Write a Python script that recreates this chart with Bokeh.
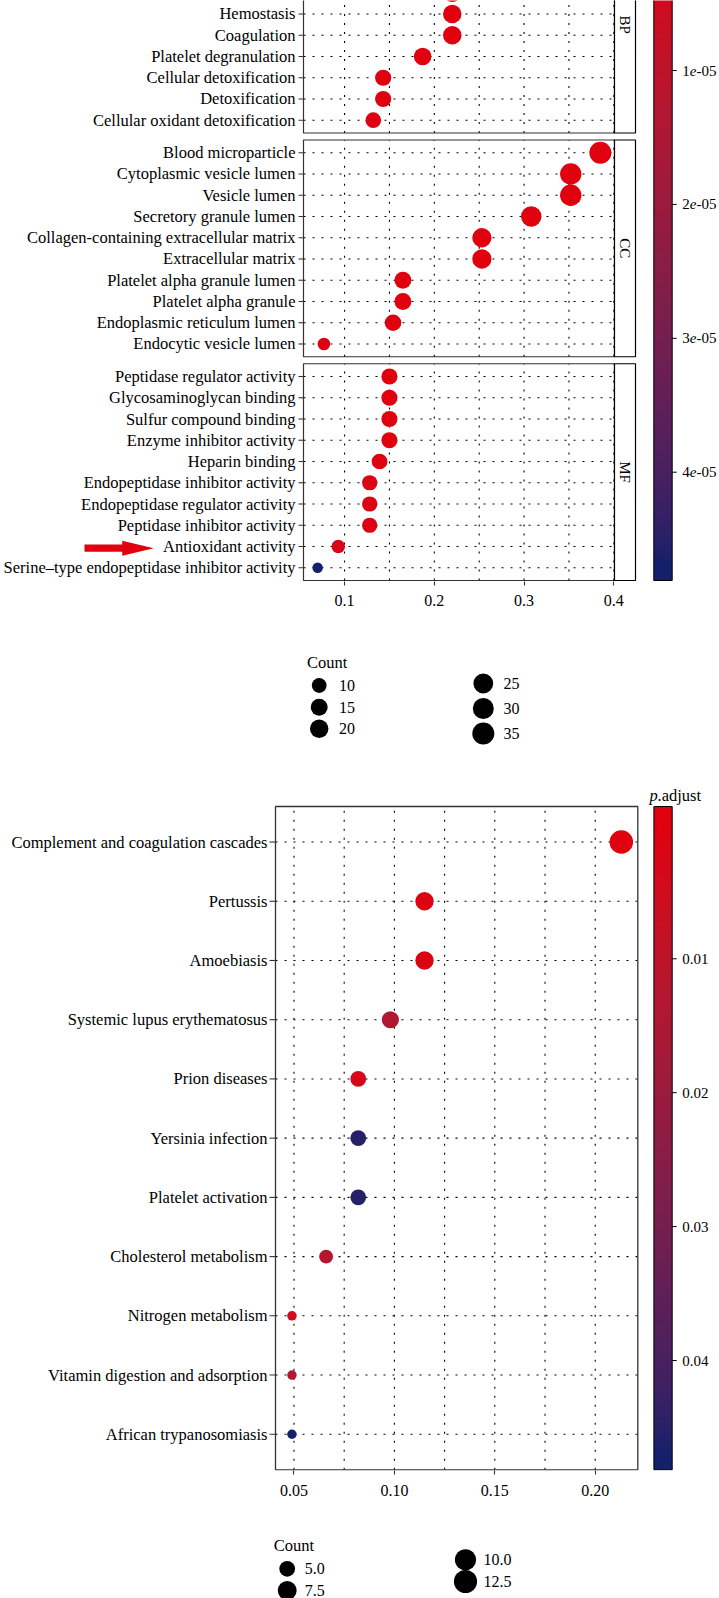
import numpy as np
from bokeh.plotting import figure
from bokeh.models import ColumnDataSource, Range1d, FixedTicker, PrintfTickFormatter, LinearColorMapper, Label
from bokeh.layouts import column
from bokeh.core.properties import value
from bokeh.embed import file_html
from bokeh.resources import INLINE

FONT = "Liberation Serif"

# ------------------------------------------------------------------ data: GO
bp_terms = ["Blood coagulation", "Hemostasis", "Coagulation", "Platelet degranulation",
            "Cellular detoxification", "Detoxification", "Cellular oxidant detoxification"]
bp_ratio = [0.220, 0.220, 0.220, 0.187, 0.143, 0.143, 0.132]
bp_count = [20, 20, 20, 17, 13, 13, 12]
bp_padj = [3.1e-10, 3.1e-10, 3.1e-10, 8.9e-09, 4.2e-07, 4.2e-07, 9.6e-07]

cc_terms = ["Blood microparticle", "Cytoplasmic vesicle lumen", "Vesicle lumen",
            "Secretory granule lumen", "Collagen-containing extracellular matrix",
            "Extracellular matrix", "Platelet alpha granule lumen", "Platelet alpha granule",
            "Endoplasmic reticulum lumen", "Endocytic vesicle lumen"]
cc_ratio = [0.385, 0.352, 0.352, 0.308, 0.253, 0.253, 0.165, 0.165, 0.154, 0.077]
cc_count = [35, 32, 32, 28, 23, 23, 15, 15, 14, 7]
cc_padj = [2.0e-21, 6.5e-17, 6.5e-17, 1.4e-14, 3.3e-10, 3.3e-10, 5.2e-09, 6.8e-09, 2.4e-07, 1.6e-06]

mf_terms = ["Peptidase regulator activity", "Glycosaminoglycan binding",
            "Sulfur compound binding", "Enzyme inhibitor activity", "Heparin binding",
            "Endopeptidase inhibitor activity", "Endopeptidase regulator activity",
            "Peptidase inhibitor activity", "Antioxidant activity",
            "Serine\u2013type endopeptidase inhibitor activity"]
mf_ratio = [0.150, 0.150, 0.150, 0.150, 0.139, 0.128, 0.128, 0.128, 0.093, 0.070]
mf_count = [13, 13, 13, 13, 12, 11, 11, 11, 8, 6]
mf_padj = [1.1e-07, 1.1e-07, 1.1e-07, 1.1e-07, 3.9e-07, 1.2e-06, 1.2e-06, 1.2e-06, 2.3e-06, 4.68e-05]

facet_labels = ["BP", "CC", "MF"]
go_xticks = [0.1, 0.2, 0.3, 0.4]
go_cbar_ticks = [1e-05, 2e-05, 3e-05, 4e-05]
go_size_breaks = [10, 15, 20, 25, 30, 35]
go_size_labels = ["10", "15", "20", "25", "30", "35"]

# ---------------------------------------------------------------- data: KEGG
kegg_terms = ["Complement and coagulation cascades", "Pertussis", "Amoebiasis",
              "Systemic lupus erythematosus", "Prion diseases", "Yersinia infection",
              "Platelet activation", "Cholesterol metabolism", "Nitrogen metabolism",
              "Vitamin digestion and adsorption", "African trypanosomiasis"]
kegg_ratio = [0.213, 0.115, 0.115, 0.098, 0.082, 0.082, 0.082, 0.066, 0.049, 0.049, 0.049]
kegg_count = [13, 7, 7, 6, 5, 5, 5, 4, 3, 3, 3]
kegg_padj = [1.2e-07, 0.0012, 0.0013, 0.0135, 0.0031, 0.0452, 0.0455, 0.0122, 0.0036, 0.0140, 0.0469]

kegg_xticks = [0.05, 0.10, 0.15, 0.20]
kegg_cbar_ticks = [0.01, 0.02, 0.03, 0.04]
kegg_size_breaks = [5.0, 7.5, 10.0, 12.5]
kegg_size_labels = ["5.0", "7.5", "10.0", "12.5"]

# ------------------------------------------------------------------ styling
PAGE_W = 719
RED_HEX, NAVY_HEX = "#E0000E", "#14206B"
GRID_DASH = "2 7"
BORDER = "#333333"
LABEL_FS = "16.5px"

_M = np.array([[0.4124564, 0.3575761, 0.1804375],
               [0.2126729, 0.7151522, 0.0721750],
               [0.0193339, 0.1191920, 0.9503041]])
_WP = np.array([0.95047, 1.0, 1.08883])


def _to_lab(h):
    h = h.lstrip("#")
    rgb = np.array([int(h[i:i + 2], 16) for i in (0, 2, 4)]) / 255.0
    lin = np.where(rgb <= 0.04045, rgb / 12.92, ((rgb + 0.055) / 1.055) ** 2.4)
    xyz = (_M @ lin) / _WP
    f = np.where(xyz > 216 / 24389, np.cbrt(xyz), (24389 / 27 * xyz + 16) / 116)
    return np.array([116 * f[1] - 16, 500 * (f[0] - f[1]), 200 * (f[1] - f[2])])


def _from_lab(lab):
    L, a, b = lab
    fy = (L + 16) / 116
    f = np.array([fy + a / 500, fy, fy - b / 200])
    xyz = np.where(f ** 3 > 216 / 24389, f ** 3, (116 * f - 16) / (24389 / 27)) * _WP
    lin = np.linalg.solve(_M, xyz)
    rgb = np.where(lin <= 0.0031308, 12.92 * lin,
                   1.055 * np.power(np.clip(lin, 0, None), 1 / 2.4) - 0.055)
    rgb = np.clip(np.round(rgb * 255), 0, 255).astype(int)
    return "#%02x%02x%02x" % tuple(rgb)


LAB_LO, LAB_HI = _to_lab(RED_HEX), _to_lab(NAVY_HEX)


def gradient(t):
    return _from_lab(LAB_LO + (LAB_HI - LAB_LO) * t)


def make_mapper(lo, hi, n=256):
    return LinearColorMapper(palette=[gradient(t) for t in np.linspace(0, 1, n)],
                             low=lo, high=hi, low_color=gradient(0.0), high_color=gradient(1.0))


def dot_size(c, cmin, cmax, dmin, dmax):
    c = np.asarray(c, dtype=float)
    return dmin + (dmax - dmin) * np.sqrt(np.clip((c - cmin) / (cmax - cmin), 0, 1))


class Frame:
    """maps page pixels to data coordinates of one figure"""

    def __init__(self, xv, xp, kx, yv, yp, ky):
        self.xv, self.xp, self.kx, self.yv, self.yp, self.ky = xv, xp, kx, yv, yp, ky

    def X(self, px):
        if np.ndim(px):
            return [self.X(v) for v in px]
        return float(self.xv + (px - self.xp) / self.kx)

    def Y(self, py):
        if np.ndim(py):
            return [self.Y(v) for v in py]
        return float(self.yv - (py - self.yp) / self.ky)

    def page_y(self, y):
        return self.yp - (y - self.yv) * self.ky


def base_fig(height, frame_bottom_local, fr, page_top, with_axis=True):
    p = figure(width=PAGE_W, height=height, title=None,
               x_range=Range1d(fr.X(0), fr.X(PAGE_W)),
               y_range=Range1d(fr.Y(page_top + frame_bottom_local), fr.Y(page_top)),
               min_border_left=0, min_border_right=0, min_border_top=0,
               min_border_bottom=height - frame_bottom_local,
               x_axis_type="linear" if with_axis else None, y_axis_type=None,
               toolbar_location=None, output_backend="svg", outline_line_color=None,
               background_fill_color="white", border_fill_color="white")
    p.xgrid.visible = False
    p.ygrid.visible = False
    return p


def style_xaxis(p, ticks, fmt, standoff):
    ax = p.xaxis[0]
    ax.ticker = FixedTicker(ticks=ticks)
    ax.formatter = PrintfTickFormatter(format=fmt)
    ax.axis_line_color = None
    ax.major_tick_line_color = BORDER
    ax.major_tick_line_width = 1.1
    ax.major_tick_in = 0
    ax.major_tick_out = 4
    ax.minor_tick_line_color = None
    ax.major_label_standoff = standoff
    ax.major_label_text_font = FONT
    ax.major_label_text_font_size = "16px"
    ax.major_label_text_color = "black"


def txt(p, xs, ys, texts, size, align="left", style="normal", angle=0.0, x_offset=0):
    p.text(x=xs, y=ys, text=texts, text_font=value(FONT), text_font_size=size,
           text_align=align, text_baseline="middle", text_font_style=style,
           angle=angle, text_color="black", x_offset=x_offset)


def grid_and_labels(p, fr, page_top, terms, ys, x_lo, x_hi, panels, grid_x, lab_right,
                    tick_x0, tick_x1):
    # dotted grid inside the panels
    p.segment(x0=x_lo, x1=x_hi, y0=ys, y1=ys, line_color="black", line_width=1.1,
              line_dash=GRID_DASH)
    gx, gb, gt = [], [], []
    for b, t in panels:
        for g in grid_x:
            gx.append(g); gb.append(b); gt.append(t)
    p.segment(x0=gx, x1=gx, y0=gb, y1=gt, line_color="black", line_width=1.1,
              line_dash=GRID_DASH)
    # y ticks and labels (labels only for rows that fall inside the crop)
    p.segment(x0=fr.X(tick_x0), x1=fr.X(tick_x1), y0=ys, y1=ys, line_color=BORDER,
              line_width=1.1)
    vis = [(t, y) for t, y in zip(terms, ys) if fr.page_y(y) - 9 >= page_top]
    txt(p, [fr.X(lab_right)] * len(vis), [y for _, y in vis], [t for t, _ in vis],
        LABEL_FS, align="right")


def draw_colorbar(p, fr, mapper, ticks, tick_page0, step_px, top_page, bot_page,
                  x0p, x1p, italic_e):
    t0, dt = ticks[0], ticks[1] - ticks[0]
    n = int(round(bot_page - top_page))
    edges = np.linspace(bot_page, top_page, n + 1)          # bottom -> top
    mids = (edges[:-1] + edges[1:]) / 2
    vals = t0 + (mids - tick_page0) / step_px * dt
    img = vals.reshape(n, 1)
    y0, y1 = fr.Y(bot_page), fr.Y(top_page)
    p.image(image=[img], x=fr.X(x0p), y=y0, dw=fr.X(x1p) - fr.X(x0p), dh=y1 - y0,
            color_mapper=mapper)
    p.quad(left=fr.X(x0p), right=fr.X(x1p), top=y1, bottom=y0,
           fill_color=None, line_color="black", line_width=1)
    tp = [tick_page0 + (t - t0) / dt * step_px for t in ticks]
    ty = fr.Y(tp)
    p.segment(x0=fr.X(x1p), x1=fr.X(x1p + 4.5), y0=ty, y1=ty, line_color="black",
              line_width=1)
    lx = fr.X(x1p + 10)
    if italic_e:
        parts = [("%.0e" % t).split("e") for t in ticks]
        txt(p, [lx] * len(ticks), ty, [a for a, _ in parts], "15px")
        txt(p, [lx] * len(ticks), ty, ["e"] * len(ticks), "15px", style="italic",
            x_offset=7.5)
        txt(p, [lx] * len(ticks), ty, [b for _, b in parts], "15px", x_offset=14.2)
    else:
        txt(p, [lx] * len(ticks), ty, ["%.2f" % t for t in ticks], "15px")


# =============================================================== GO figure
GO_H, GO_FRAME_B = 642, 581
GO_PANEL_LEFT, GO_PANEL_W, GO_STRIP_W = 303, 311, 21
GO_PITCH = 21.25
GO_MF_BOTTOM_PAGE = 580
ROW, GAP, PAD = 100, 33, 60
BP_ROWS = 10


def rows(n_known, base):
    return [base + (n_known - 1 - j) * ROW for j in range(n_known)]


mf_y = rows(len(mf_terms), 0)
mf_bot, mf_top = -PAD, (len(mf_terms) - 1) * ROW + PAD
cc_base = mf_top + GAP + PAD
cc_y = rows(len(cc_terms), cc_base)
cc_bot, cc_top = cc_base - PAD, cc_base + (len(cc_terms) - 1) * ROW + PAD
bp_base = cc_top + GAP + PAD
bp_y = rows(len(bp_terms), bp_base)
bp_bot, bp_top = bp_base - PAD, bp_base + (BP_ROWS - 1) * ROW + PAD

go_ratio_all = bp_ratio + cc_ratio + mf_ratio
go_count_all = bp_count + cc_count + mf_count
go_padj_all = bp_padj + cc_padj + mf_padj
go_terms_all = bp_terms + cc_terms + mf_terms
go_y_all = bp_y + cc_y + mf_y
rmin, rmax = min(go_ratio_all), max(go_ratio_all)
x_lo, x_hi = rmin - 0.05 * (rmax - rmin), rmax + 0.05 * (rmax - rmin)

gf = Frame(x_lo, GO_PANEL_LEFT, GO_PANEL_W / (x_hi - x_lo),
           mf_bot, GO_MF_BOTTOM_PAGE, GO_PITCH / ROW)
x_strip_r = gf.X(GO_PANEL_LEFT + GO_PANEL_W + GO_STRIP_W)

go_mapper = make_mapper(min(go_padj_all), max(go_padj_all))
GO_DMIN, GO_DMAX = 10.5, 22.0
go_cmin, go_cmax = min(go_count_all), max(go_count_all)

go = base_fig(GO_H, GO_FRAME_B, gf, 0)
style_xaxis(go, go_xticks, "%.1f", 9)

go_mid = [(a + b) / 2 for a, b in zip(go_xticks[:-1], go_xticks[1:])]
panels_go = [(mf_bot, mf_top), (cc_bot, cc_top), (bp_bot, bp_top)]
grid_and_labels(go, gf, 0, go_terms_all, go_y_all, x_lo, x_hi, panels_go,
                sorted(go_xticks + go_mid), 295, 298, GO_PANEL_LEFT)

go_src = ColumnDataSource(dict(
    x=go_ratio_all, y=go_y_all, padj=go_padj_all,
    size=dot_size(go_count_all, go_cmin, go_cmax, GO_DMIN, GO_DMAX)))
go.scatter("x", "y", size="size", source=go_src, line_color=None,
           fill_color={"field": "padj", "transform": go_mapper})

pb = [b for b, _ in panels_go]
pt = [t for _, t in panels_go]
go.quad(left=x_lo, right=x_hi, bottom=pb, top=pt, fill_color=None, line_color=BORDER,
        line_width=1.2)
go.quad(left=x_hi, right=x_strip_r, bottom=pb, top=pt, fill_color="white",
        line_color="black", line_width=1.2)
txt(go, [(x_hi + x_strip_r) / 2] * 3, [(b + t) / 2 for b, t in panels_go][::-1],
    facet_labels, "15px", align="center", angle=-np.pi / 2)

draw_colorbar(go, gf, go_mapper, go_cbar_ticks, 70.0, 133.9, -5, 580, 653.3, 671.7, True)

# red arrow pointing at "Antioxidant activity"
arr_page = gf.page_y(mf_y[mf_terms.index("Antioxidant activity")])
A_TAIL, A_BASE, A_TIP, A_SHAFT, A_HEAD = 84, 121.7, 153.3, 3.65, 7.5
A_C = arr_page + 1.7
go.patch(x=gf.X([A_TAIL, A_BASE, A_BASE, A_TIP, A_BASE, A_BASE, A_TAIL]),
         y=gf.Y([A_C - A_SHAFT, A_C - A_SHAFT, A_C - A_HEAD, A_C, A_C + A_HEAD,
                 A_C + A_SHAFT, A_C + A_SHAFT]),
         fill_color=RED_HEX, line_color=None)

go.add_layout(Label(x=gf.X((GO_PANEL_LEFT + GO_PANEL_W + GO_STRIP_W + GO_PANEL_LEFT) / 2),
                    y=gf.Y(626.7), text="Gene ratio", text_font=FONT,
                    text_font_size=LABEL_FS, text_align="center", text_baseline="middle",
                    text_color="black"))


# ============================================================ size legends
def size_legend(height, title_xy, cols, labels, sizes):
    lf = figure(width=PAGE_W, height=height, title=None, x_range=Range1d(0, PAGE_W),
                y_range=Range1d(height, 0), min_border=0, x_axis_type=None,
                y_axis_type=None, toolbar_location=None, output_backend="svg",
                outline_line_color=None, background_fill_color="white",
                border_fill_color="white")
    txt(lf, [title_xy[0]], [title_xy[1]], ["Count"], LABEL_FS)
    cx, cy, lx = [], [], []
    for circ_x, lab_x, ys in cols:
        for yy in ys:
            cx.append(circ_x); cy.append(yy); lx.append(lab_x)
    lf.scatter(x=cx, y=cy, size=list(sizes), fill_color="black", line_color=None)
    txt(lf, lx, cy, labels, "16px")
    return lf


GO_LEG_H = 106
go_leg = size_legend(GO_LEG_H, (306.4, 19.7),
                     [(318.7, 338.4, [43.0, 64.7, 86.3]), (482.8, 503.0, [41.0, 66.0, 91.0])],
                     go_size_labels,
                     dot_size(go_size_breaks, go_cmin, go_cmax, GO_DMIN, GO_DMAX))

# ============================================================= KEGG figure
K_TOP, K_H, K_FRAME_B = 748, 782, 722
K_PANEL_LEFT, K_PANEL_W = 275, 362.3
K_PANEL_TOP, K_PANEL_BOT = 806, 1469.3
n_k = len(kegg_terms)
k_y = [n_k - 1 - j for j in range(n_k)]
kmin, kmax = min(kegg_ratio), max(kegg_ratio)
kx_lo, kx_hi = kmin - 0.05 * (kmax - kmin), kmax + 0.05 * (kmax - kmin)
ky_lo, ky_hi = -0.6, n_k - 1 + 0.6

kf = Frame(kx_lo, K_PANEL_LEFT, K_PANEL_W / (kx_hi - kx_lo),
           ky_lo, K_PANEL_BOT, (K_PANEL_BOT - K_PANEL_TOP) / (ky_hi - ky_lo))

k_mapper = make_mapper(min(kegg_padj), max(kegg_padj))
K_DMIN, K_DMAX = 9.5, 23.5
k_cmin, k_cmax = min(kegg_count), max(kegg_count)

kg = base_fig(K_H, K_FRAME_B, kf, K_TOP)
style_xaxis(kg, kegg_xticks, "%.2f", 10)

k_mid = [(a + b) / 2 for a, b in zip(kegg_xticks[:-1], kegg_xticks[1:])]
grid_and_labels(kg, kf, K_TOP, kegg_terms, k_y, kx_lo, kx_hi, [(ky_lo, ky_hi)],
                sorted(kegg_xticks + k_mid), 267, 269, K_PANEL_LEFT)

k_src = ColumnDataSource(dict(
    x=kegg_ratio, y=k_y, padj=kegg_padj,
    size=dot_size(kegg_count, k_cmin, k_cmax, K_DMIN, K_DMAX)))
kg.scatter("x", "y", size="size", source=k_src, line_color=None,
           fill_color={"field": "padj", "transform": k_mapper})
kg.quad(left=kx_lo, right=kx_hi, bottom=ky_lo, top=ky_hi, fill_color=None,
        line_color=BORDER, line_width=1.3)

draw_colorbar(kg, kf, k_mapper, kegg_cbar_ticks, 958.3, 133.9, K_PANEL_TOP, K_PANEL_BOT,
              653.4, 671.7, False)
txt(kg, [kf.X(649)], [kf.Y(795)], ["p"], LABEL_FS, style="italic")
txt(kg, [kf.X(649)], [kf.Y(795)], [".adjust"], LABEL_FS, x_offset=8)

kg.add_layout(Label(x=kf.X(K_PANEL_LEFT + K_PANEL_W / 2), y=kf.Y(1513.3), text="Gene ratio",
                    text_font=FONT, text_font_size=LABEL_FS, text_align="center",
                    text_baseline="middle", text_color="black"))

K_LEG_H = 68
k_leg = size_legend(K_LEG_H, (273.3, 15.0),
                    [(286.7, 304.3, [38.3, 60.0]), (465.0, 483.0, [29.3, 51.0])],
                    kegg_size_labels,
                    dot_size(kegg_size_breaks, k_cmin, k_cmax, K_DMIN, K_DMAX))

layout = column(go, go_leg, kg, k_leg, spacing=0)
open("out.html", "w").write(file_html(layout, INLINE))
